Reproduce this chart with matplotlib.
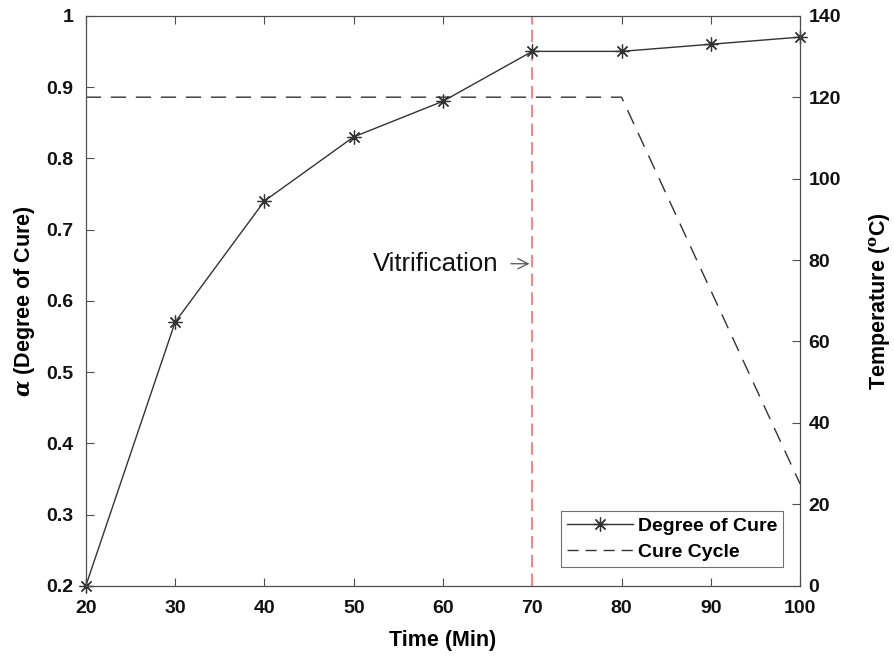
import matplotlib.pyplot as plt
from matplotlib.lines import Line2D

time_min = [20, 30, 40, 50, 60, 70, 80, 90, 100]
degree_of_cure = [0.2, 0.57, 0.74, 0.83, 0.88, 0.95, 0.95, 0.96, 0.97]

cycle_time = [20, 80, 100]
cycle_temp = [120, 120, 25]

vitrification_time = 70
alpha_ticks = [0.2, 0.3, 0.4, 0.5, 0.6, 0.7, 0.8, 0.9, 1.0]
alpha_tick_labels = ["0.2", "0.3", "0.4", "0.5", "0.6", "0.7", "0.8", "0.9", "1"]
temp_ticks = [0, 20, 40, 60, 80, 100, 120, 140]

plt.rcParams.update({
    "font.family": ["Liberation Sans", "DejaVu Sans"],
    "font.size": 14,
    "font.weight": "bold",
    "axes.labelweight": "bold",
    "mathtext.fontset": "dejavuserif",
})

fig = plt.figure(figsize=(8.94, 6.56), dpi=100)
ax = fig.add_axes([0.096, 0.107, 0.799, 0.869])
ax2 = ax.twinx()

line_color = "#333333"
axis_color = "#4d4d4d"
asterisk = (8, 2, 0)

ax.plot(time_min, degree_of_cure, color=line_color, linewidth=1.0,
        marker=asterisk, markersize=10, markeredgewidth=0.9, clip_on=False, zorder=4)
ax2.plot(cycle_time, cycle_temp, color=line_color, linewidth=1.0,
         linestyle=(0, (11, 7)))

ax.axvline(vitrification_time, color="#f28a8a", linestyle=(0, (6, 3)), linewidth=1.5)

ax.annotate("Vitrification", xy=(vitrification_time, 0.652), xytext=(66.2, 0.652),
            ha="right", va="center", fontsize=18.5, fontweight="normal", color="#111111",
            arrowprops=dict(arrowstyle="->", color="#555555", lw=0.9,
                            shrinkA=7, shrinkB=2))

ax.set_xlim(20, 100)
ax.set_ylim(0.2, 1.0)
ax2.set_ylim(0, 140)
ax.set_xticks(time_min)
ax.set_yticks(alpha_ticks)
ax.set_yticklabels(alpha_tick_labels)
ax2.set_yticks(temp_ticks)

ax.set_xlabel("Time (Min)", fontsize=15.5)
ax.set_ylabel(r"$\alpha$ (Degree of Cure)", fontsize=15.5)
ax2.set_ylabel(r"Temperature ($^{\mathrm{o}}$C)", fontsize=15.5)
ax.xaxis.set_label_coords(0.5, -0.077)
ax.yaxis.set_label_coords(-0.068, 0.5)
ax2.yaxis.set_label_coords(1.094, 0.5)

for a in (ax, ax2):
    for s in a.spines.values():
        s.set_color(axis_color)
    a.tick_params(direction="in", length=6, width=0.8, color=axis_color,
                  labelsize=14, labelcolor="#111111")
ax.tick_params(axis="x", top=True, pad=10)
ax.tick_params(axis="y", pad=9)
ax2.tick_params(axis="y", left=False, right=True, pad=6)

handles = [
    Line2D([], [], color=line_color, linewidth=1.0, marker=asterisk, markersize=10,
           markeredgewidth=0.9),
    Line2D([], [], color=line_color, linewidth=1.0, linestyle=(0, (8, 5))),
]
leg = ax.legend(handles, ["Degree of Cure", "Cure Cycle"], loc="lower right",
                bbox_to_anchor=(0.976, 0.033), frameon=True, fancybox=False,
                prop={"weight": "bold", "size": 14}, handlelength=3.4,
                handletextpad=0.25, borderpad=0.3, labelspacing=0.45,
                borderaxespad=0)
leg.get_frame().set_edgecolor(axis_color)
leg.get_frame().set_linewidth(0.8)

fig.savefig("out.png", dpi=100)
